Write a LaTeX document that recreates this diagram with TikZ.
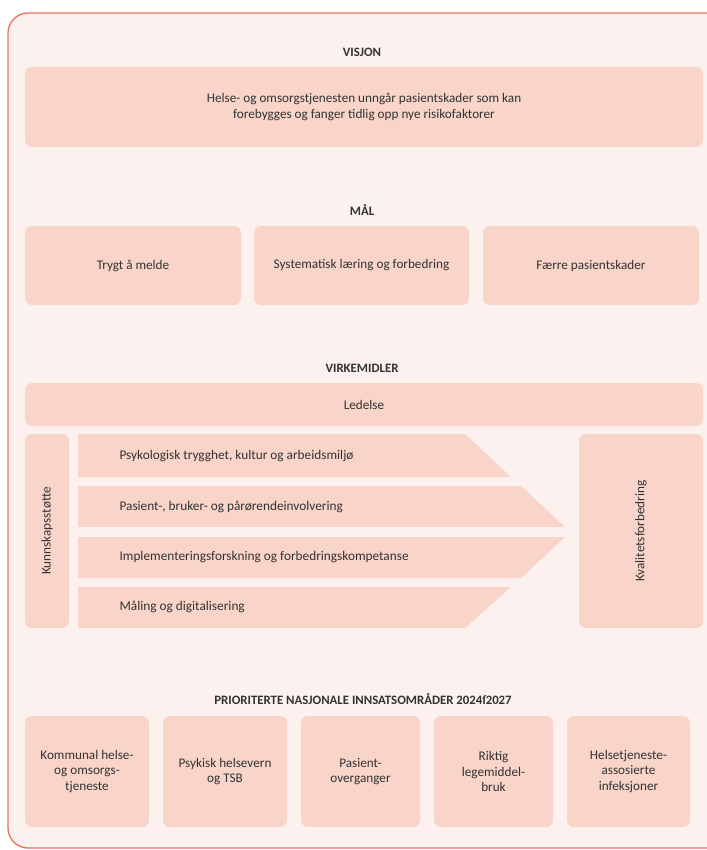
\documentclass[tikz,border=0pt]{standalone}
\usepackage{fontspec}
\setmainfont{Carlito}
\definecolor{framered}{HTML}{E8735A}
\definecolor{framebg}{HTML}{FCF1EE}
\definecolor{boxfill}{HTML}{F9D4C8}
\definecolor{txt}{HTML}{333333}
\begin{document}
\begin{tikzpicture}[x=1pt,y=-1pt,
    box/.style={fill=boxfill, rounded corners=7pt, inner sep=0pt, text=txt, align=center,
                font=\fontsize{13.2}{15.5}\selectfont},
    heading/.style={text=txt, font=\bfseries\fontsize{12.8}{14}\selectfont},
    lever/.style={text=txt, anchor=west, font=\fontsize{13.3}{15.5}\selectfont}]
    \useasboundingbox (0,0) rectangle (706,850);
    % frame
    \draw[framered, line width=1.3pt, fill=framebg, rounded corners=20pt] (8,13) rectangle (740,848);
    % vision
    \node[heading] (visjon) at (362,52) {VISJON};
    \node[box, minimum width=678pt, minimum height=80pt] (vision) at (364,107)
        {Helse- og omsorgstjenesten unngår pasientskader som kan\\forebygges og fanger tidlig opp nye risikofaktorer};
    % goals
    \node[heading] (maal) at (362,210) {MÅL};
    \node[box, minimum width=216pt, minimum height=79pt] (goal1) at (133,265.5) {Trygt å melde};
    \node[box, minimum width=215pt, minimum height=79pt] (goal2) at (361.5,265.5) {Systematisk læring og forbedring};
    \node[box, minimum width=216pt, minimum height=79pt] (goal3) at (591,265.5) {Færre pasientskader};
    % means
    \node[heading] (virkemidler) at (362,368) {VIRKEMIDLER};
    \node[box, minimum width=678pt, minimum height=43pt] (ledelse) at (364,404.5) {Ledelse};
    \node[box, minimum width=44pt, minimum height=194pt] (kunnskap) at (47,531) {};
    \node[rotate=90, text=txt, font=\fontsize{13.2}{15.5}\selectfont] at (kunnskap.center) {Kunnskapsstøtte};
    \node[box, minimum width=124pt, minimum height=194pt] (kvalitet) at (641,531) {};
    \node[rotate=90, text=txt, font=\fontsize{13.2}{15.5}\selectfont] at (kvalitet.center) {Kvalitetsforbedring};
    \fill[boxfill] (78,434) -- (465,434) -- (511,477) -- (78,477) -- cycle;
    \fill[boxfill] (78,486) -- (521,486) -- (565,527) -- (78,527) -- cycle;
    \fill[boxfill] (78,537) -- (565,537) -- (521,578) -- (78,578) -- cycle;
    \fill[boxfill] (78,587) -- (511,587) -- (465,628) -- (78,628) -- cycle;
    \node[lever] (lever1) at (116,456) {Psykologisk trygghet, kultur og arbeidsmiljø};
    \node[lever] (lever2) at (116,507) {Pasient-, bruker- og pårørendeinvolvering};
    \node[lever] (lever3) at (116,557) {Implementeringsforskning og forbedringskompetanse};
    \node[lever] (lever4) at (116,607) {Måling og digitalisering};
    % priority areas
    \node[heading] (prioritet) at (363,699) {PRIORITERTE NASJONALE INNSATSOMRÅDER 2024ſ2027};
    \node[box, minimum width=124pt, minimum height=111pt] (area1) at (87,771.5) {Kommunal helse-\\og omsorgs-\\tjeneste};
    \node[box, minimum width=124pt, minimum height=111pt] (area2) at (225,771.5) {Psykisk helsevern\\og TSB};
    \node[box, minimum width=119pt, minimum height=111pt] (area3) at (360.5,771.5) {Pasient-\\overganger};
    \node[box, minimum width=119pt, minimum height=111pt] (area4) at (493.5,771.5) {Riktig\\legemiddel-\\bruk};
    \node[box, minimum width=123pt, minimum height=111pt] (area5) at (628.5,771.5) {Helsetjeneste-\\assosierte\\infeksjoner};
\end{tikzpicture}
\end{document}
